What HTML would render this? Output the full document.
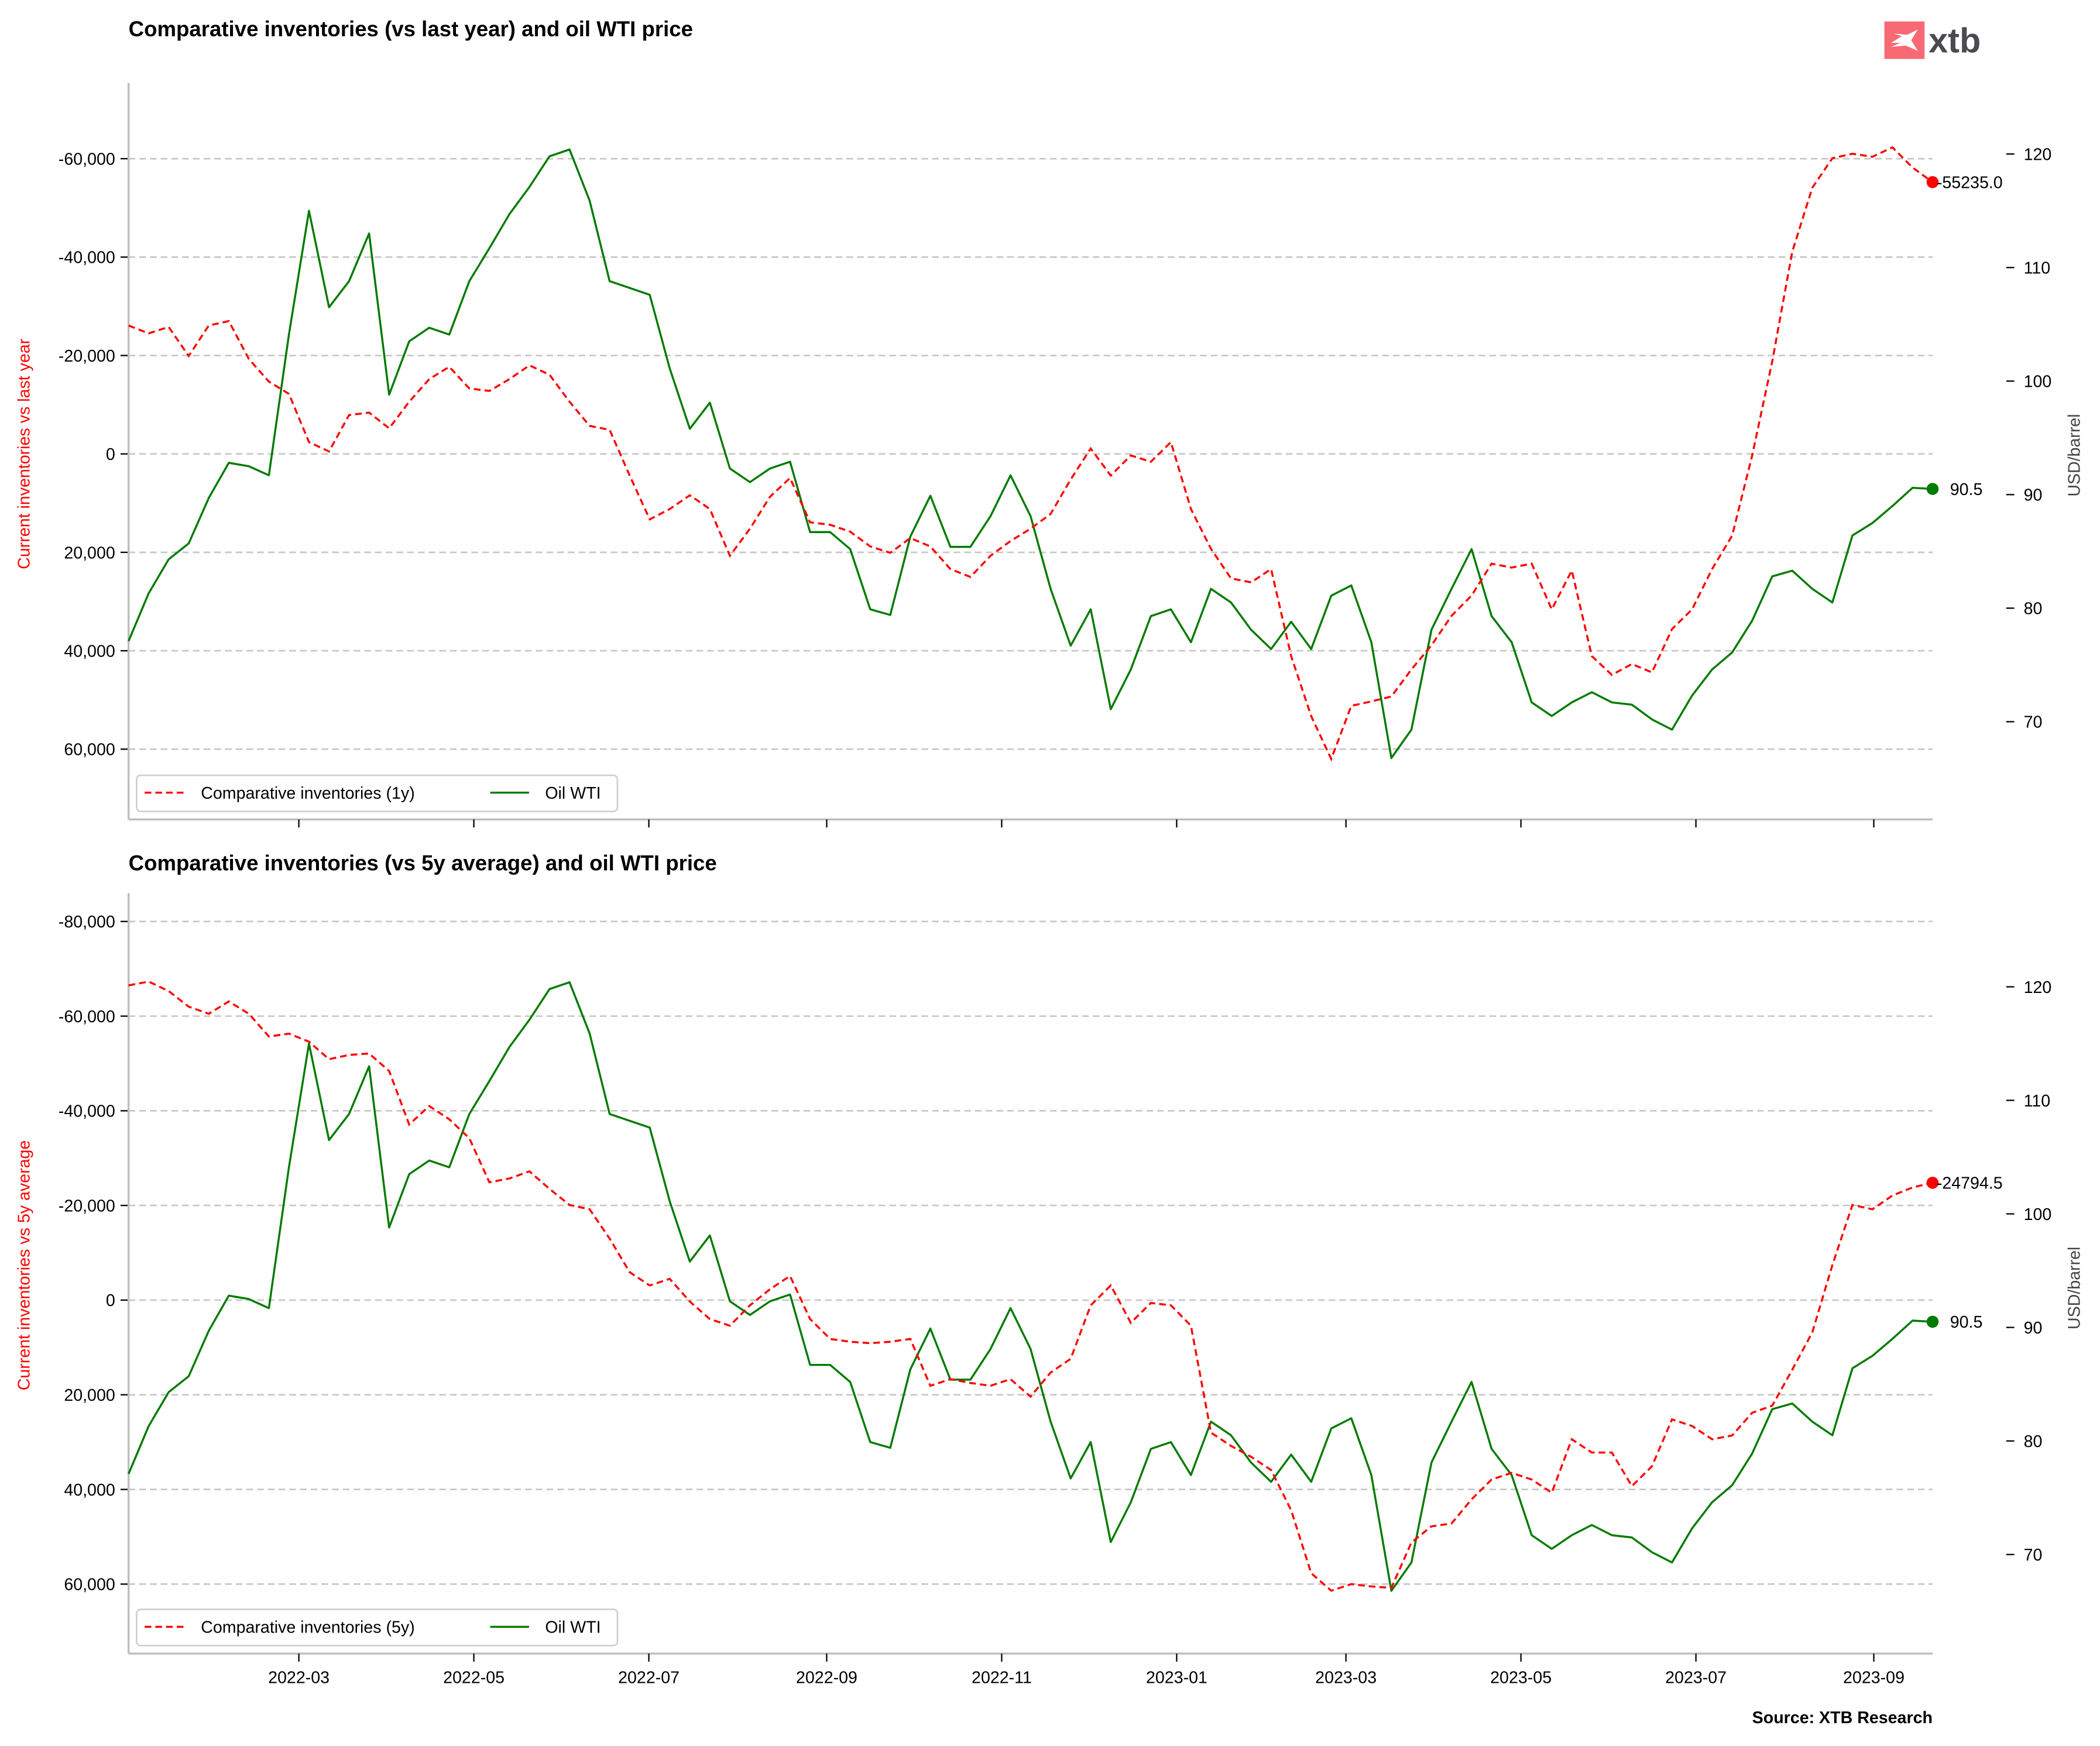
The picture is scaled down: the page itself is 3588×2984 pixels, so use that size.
<!DOCTYPE html>
<html><head><meta charset="utf-8"><style>
html,body{margin:0;padding:0;background:#fff}
svg{display:block;font-family:"Liberation Sans",sans-serif}
</style></head><body>
<svg id="chart" width="3588" height="2984" viewBox="0 0 1568 1304" xmlns="http://www.w3.org/2000/svg">
<rect width="1568" height="1304" fill="#fff"/>
<g>
<rect x="1407" y="16" width="30" height="28" fill="#f76a73"/>
<path d="M1412 32 L1420 27 L1414 25 L1424 26 L1432 22 L1427 30 L1432 38 L1423 34 L1412 35 L1419 32 Z" fill="#fff"/>
<text x="1440" y="39" font-size="26" font-weight="bold" fill="#4a4a50">xtb</text>
</g>
<text x="96" y="27" font-size="16" font-weight="bold">Comparative inventories (vs last year) and oil WTI price</text>
<text x="96" y="650" font-size="16" font-weight="bold">Comparative inventories (vs 5y average) and oil WTI price</text>
<text x="1443" y="1287" font-size="12.5" font-weight="bold" text-anchor="end">Source: XTB Research</text>
<g id="panels"></g>
</svg>
<script>
const wti = [77.1,81.3,84.3,85.7,89.7,92.8,92.5,91.7,104.1,115,106.5,108.8,113,98.8,103.5,104.7,104.1,108.8,111.7,114.7,117.1,119.8,120.4,115.9,108.8,108.2,107.6,101.1,95.8,98.1,92.3,91.1,92.3,92.9,86.7,86.7,85.2,79.9,79.4,86.3,89.9,85.4,85.4,88.1,91.7,88.1,81.7,76.7,79.9,71.1,74.6,79.3,79.9,77.0,81.7,80.5,78.1,76.4,78.8,76.4,81.1,82.0,77.0,66.8,69.3,78.1,81.7,85.2,79.3,77.0,71.7,70.5,71.7,72.6,71.7,71.5,70.2,69.3,72.3,74.6,76.1,78.9,82.8,83.3,81.7,80.5,86.4,87.5,89,90.6,90.5];
const inv1y = [-26100,-24500,-25800,-19900,-26100,-27000,-19300,-14700,-12200,-2400,-500,-7900,-8400,-5200,-10600,-15200,-17700,-13300,-12800,-15200,-18000,-16100,-10600,-5700,-4900,4400,13300,11200,8400,11200,20700,15200,8700,4900,13900,14400,15800,18800,20100,17100,18800,23400,25000,20700,17700,15200,12200,5200,-1100,4400,300,1600,-2400,11200,19300,25300,26100,23400,41100,53300,62000,51200,50300,49300,43800,38900,32900,28800,22300,23100,22300,31600,23700,41100,44900,42700,44400,35600,31600,23400,16600,300,-18800,-41100,-54100,-60100,-61000,-60400,-62300,-58200,-55235];
const inv5y = [-66500,-67300,-65300,-62000,-60500,-63100,-60500,-55700,-56300,-54600,-50900,-51800,-52100,-48400,-37100,-41000,-38200,-34200,-24900,-25700,-27200,-23500,-20100,-19200,-13000,-5900,-3100,-4500,300,4000,5400,1100,-2300,-5100,4000,8200,8800,9100,8800,8200,18100,16700,17500,18100,16700,20400,15300,12400,1100,-3100,4800,600,1100,5400,28000,30800,33100,35900,44400,57700,61400,60000,60500,60800,51200,47800,47200,42100,37900,36500,37900,40700,29400,32200,32200,39300,35100,25200,26600,29400,28600,23800,22300,14700,6800,-7400,-20100,-19200,-22100,-23800,-24794.5];
const xTickLabels = ["2022-03","2022-05","2022-07","2022-09","2022-11","2023-01","2023-03","2023-05","2023-07","2023-09"];
const xTickMonthsFromStart = [2,4,6,8,10,12,14,16,18,20];
const leftTicks1 = [-60000,-40000,-20000,0,20000,40000,60000];
const leftTicks2 = [-80000,-60000,-40000,-20000,0,20000,40000,60000];
const rightTicks = [70,80,90,100,110,120];

const NS="http://www.w3.org/2000/svg";
const root=document.getElementById('panels');
const X0=96,X1=1443;
const dayPx=2.142, startX=221-58*dayPx;
function xIdx(i){return X0+(X1-X0)*i/(wti.length-1);}
function monthX(m){const d=new Date(Date.UTC(2022,0+m,1));const days=(d-Date.UTC(2022,0,1))/864e5;return startX+days*dayPx;}
function el(tag,attrs,parent){const e=document.createElementNS(NS,tag);for(const k in attrs)e.setAttribute(k,attrs[k]);(parent||root).appendChild(e);return e;}
function fmt(v){return (v<0?'-':'')+Math.abs(v).toLocaleString('en-US');}

function panel(cfg){
  const g=el('g',{});
  
  
  const yL=v=>cfg.zeroY+v/20000*cfg.stepL;
  const yR=v=>cfg.r120-(v-120)*8.48;
  cfg.lticks.forEach(t=>{
    const y=yL(t);
    const gl=el('line',{x1:X0,x2:X1,y1:y,y2:y,stroke:'#c8c8c8','stroke-width':1.2,'stroke-dasharray':'5,3'},g);
    
    
    el('line',{x1:X0-6,x2:X0,y1:y,y2:y,stroke:'#000','stroke-width':1},g);
    const tx=el('text',{x:X0-10,y:y+4.5,'font-size':12.5,'text-anchor':'end'},g);
    tx.textContent=fmt(t);
    
    
  });
  rightTicks.forEach(t=>{
    const y=yR(t);
    el('line',{x1:1498,x2:1504,y1:y,y2:y,stroke:'#000','stroke-width':1},g);
    const tx=el('text',{x:1511,y:y+4.5,'font-size':12.5},g);
    tx.textContent=t;
    
    
  });
  el('line',{x1:X0,x2:X0,y1:cfg.top,y2:cfg.bottom,stroke:'#bdbdbd','stroke-width':1.5},g);
  el('line',{x1:X0,x2:X1,y1:cfg.bottom,y2:cfg.bottom,stroke:'#bdbdbd','stroke-width':1.5},g);
  xTickMonthsFromStart.forEach((m,i)=>{
    const x=monthX(m);
    el('line',{x1:x,x2:x,y1:cfg.bottom,y2:cfg.bottom+6,stroke:'#000','stroke-width':1},g);
    if(cfg.xlabels){const tx=el('text',{x:x,y:cfg.bottom+22,'font-size':12.5,'text-anchor':'middle'},g);tx.textContent=xTickLabels[i];
      
      }
  });
  const lt=el('text',{x:0,y:0,'font-size':12.5,fill:'#ff0000','text-anchor':'middle',transform:`translate(22,${cfg.ltY}) rotate(-90)`},g);
  lt.textContent=cfg.ltitle;
  
  
  const rt=el('text',{x:0,y:0,'font-size':12.5,fill:'#444','text-anchor':'middle',transform:`translate(1553,${cfg.rtY}) rotate(-90)`},g);
  rt.textContent='USD/barrel';
  
  
  const wp=el('polyline',{points:wti.map((v,i)=>xIdx(i)+','+yR(v)).join(' '),fill:'none',stroke:'#007a00','stroke-width':1.5,'stroke-linejoin':'round'},g);
  
  
  const rp=el('polyline',{points:cfg.data.map((v,i)=>xIdx(i)+','+yL(v)).join(' '),fill:'none',stroke:'#ff0000','stroke-width':1.5,'stroke-dasharray':'5,3'},g);
  
  
  const n=cfg.data.length-1;
  const rd=el('circle',{cx:xIdx(n),cy:yL(cfg.data[n]),r:4.5,fill:'#ff0000'},g);
  
  
  const rl=el('text',{x:xIdx(n)+3,y:yL(cfg.data[n])+4.5,'font-size':12.5},g);
  rl.textContent=cfg.data[n].toFixed(1);
  
  
  const gd=el('circle',{cx:xIdx(n),cy:yR(wti[n]),r:4.5,fill:'#007a00'},g);
  
  
  const gl2=el('text',{x:xIdx(n)+13,y:yR(wti[n])+4.5,'font-size':12.5},g);
  gl2.textContent=wti[n].toFixed(1);
  
  
  const lg=el('g',{},g);
  
  
  const ly=cfg.bottom-20;
  el('rect',{x:102,y:ly-13,width:359,height:27,rx:3,fill:'#fff',stroke:'#d0d0d0','stroke-width':1.2},lg);
  el('line',{x1:108,x2:137,y1:ly,y2:ly,stroke:'#ff0000','stroke-width':1.5,'stroke-dasharray':'5,3'},lg);
  const t1=el('text',{x:150,y:ly+4.5,'font-size':12.5},lg);t1.textContent=cfg.legend;
  
  
  el('line',{x1:366,x2:395,y1:ly,y2:ly,stroke:'#007a00','stroke-width':1.5},lg);
  const t2=el('text',{x:407,y:ly+4.5,'font-size':12.5},lg);t2.textContent='Oil WTI';
  
  
}
panel({name:'top-panel',top:62,bottom:612,zeroY:339,stepL:73.5,r120:115,lticks:leftTicks1,data:inv1y,xlabels:false,ltitle:'Current inventories vs last year',ltY:339,rtY:340,legend:'Comparative inventories (1y)'});
panel({name:'bottom-panel',top:667,bottom:1235,zeroY:971,stepL:70.7,r120:737,lticks:leftTicks2,data:inv5y,xlabels:true,ltitle:'Current inventories vs 5y average',ltY:945,rtY:962,legend:'Comparative inventories (5y)'});
</script>
</body></html>
